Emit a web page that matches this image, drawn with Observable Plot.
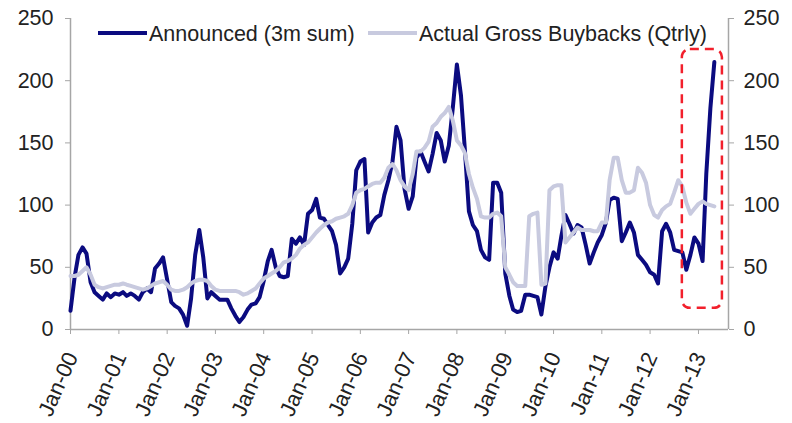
<!DOCTYPE html>
<html>
<head>
<meta charset="utf-8">
<script src="https://cdn.jsdelivr.net/npm/d3@7"></script>
<script src="https://cdn.jsdelivr.net/npm/@observablehq/plot@0.6"></script>
<style>
  body { margin: 0; background: #fff; }
  #chart { position: relative; width: 792px; height: 423px; font-family: "Liberation Sans", Arial, sans-serif; color: #222; }
  #chart svg { display: block; }
  .key { position: absolute; height: 4px; }
  .key-label { position: absolute; font-size: 21.5px; line-height: 22px; white-space: nowrap; color: #222; }
</style>
</head>
<body>
<div id="chart"></div>
<script>
// Monthly series, starting January 2000 ($bn)
const startYear = 2000;

const announced = [
  15, 42, 60, 66, 61, 38, 30, 27, 24, 29, 26, 29,        // 2000
  28, 30, 27, 29, 27, 24, 30, 33, 30, 49, 53, 58,        // 2001
  40, 22, 19, 17, 12, 3, 25, 60, 80, 58, 25, 30,         // 2002
  27, 24, 24, 24, 17, 11, 6, 10, 16, 20, 21, 26,         // 2003
  39, 55, 64, 50, 43, 42, 43, 73, 69, 74, 68, 93,        // 2004
  96, 105, 90, 89, 84, 79, 68, 45, 50, 57, 85, 128,      // 2005
  135, 137, 78, 86, 90, 92, 108, 120, 135, 163, 152, 113, // 2006
  97, 107, 138, 143, 135, 127, 141, 158, 152, 135, 148, 178, // 2007
  213, 188, 145, 95, 84, 79, 64, 58, 56, 118, 118, 110,  // 2008
  45, 27, 16, 14, 15, 28, 28, 27, 26, 12, 35, 50,        // 2009
  62, 57, 75, 92, 85, 77, 84, 82, 68, 53, 62, 70,        // 2010
  76, 86, 104, 106, 105, 71, 78, 86, 78, 60, 56, 52,     // 2011
  46, 44, 37, 79, 85, 78, 64, 63, 62, 48, 60, 74,        // 2012
  69, 55, 125, 178, 215                                  // 2013
];

const actual = [
  43, 43, 44, 47, 50, 44, 36, 34, 33, 34, 35, 36,        // 2000
  36, 37, 36, 35, 34, 33, 32, 33, 35, 37, 38, 39,        // 2001
  36, 32, 31, 31, 32, 34, 37, 39, 40, 40, 39, 35,        // 2002
  32, 31, 31, 31, 31, 31, 30, 28, 29, 31, 33, 37,        // 2003
  41, 43, 45, 47, 50, 54, 55, 57, 60, 65, 68, 70,        // 2004
  74, 78, 81, 84, 86, 87, 89, 90, 91, 93, 100, 110,      // 2005
  112, 113, 115, 117, 118, 118, 122, 130, 133, 128, 120, 115, // 2006
  112, 125, 143, 143, 146, 151, 163, 166, 171, 174, 179, 168, // 2007
  152, 148, 142, 125, 114, 105, 91, 90, 90, 93, 94, 91,  // 2008
  50, 44, 38, 35, 35, 35, 91, 93, 94, 36, 37, 112,       // 2009
  115, 116, 116, 70, 74, 78, 82, 80, 80, 80, 79, 79,     // 2010
  86, 86, 120, 138, 138, 120, 110, 110, 112, 130, 126, 118, // 2011
  100, 92, 90, 96, 99, 101, 110, 120, 115, 102, 93, 97,  // 2012
  101, 103, 101, 100, 99                                 // 2013
];

const seriesNames = ["Announced (3m sum)", "Actual Gross Buybacks (Qtrly)"];
const yTicks = [0, 50, 100, 150, 200, 250];
const tickYears = [2000, 2001, 2002, 2003, 2004, 2005, 2006, 2007, 2008, 2009, 2010, 2011, 2012, 2013];

// Highlighted window around the latest surge in announcements
const highlightFrom = "2012-09-01";
const highlightTo = "2013-07-01";
const highlightLow = 17;
const highlightHigh = 225;

const navy = "#0b0b80";
const lilac = "#c8cadf";
const axisGrey = "#a6a6a6";
const ink = "#222";

const monthDate = (i) => new Date(Date.UTC(startYear, i, 1));
const announcedRows = announced.map((value, i) => ({ date: monthDate(i), value }));
const actualRows = actual.map((value, i) => ({ date: monthDate(i), value }));
const tickDates = tickYears.map((y) => new Date(Date.UTC(y, 0, 1)));
const xDomain = [new Date(Date.UTC(2000, 0, 1)), new Date(Date.UTC(2013, 7, 16))];
const highlightBox = [{
  x1: new Date(highlightFrom), x2: new Date(highlightTo),
  y1: highlightLow, y2: highlightHigh
}];

const chart = Plot.plot({
  width: 792,
  height: 423,
  marginLeft: 70,
  marginRight: 64,
  marginTop: 18,
  marginBottom: 94,
  style: { fontFamily: "'Liberation Sans', Arial, sans-serif", fontSize: "21.5px", color: ink, background: "#fff" },
  x: { type: "utc", domain: xDomain },
  y: { domain: [0, 250] },
  marks: [
    Plot.ruleX(xDomain, { y1: 0, y2: 250, stroke: axisGrey, strokeWidth: 1.5 }),
    Plot.ruleY([0], { stroke: axisGrey, strokeWidth: 1.5 }),
    Plot.axisY({ anchor: "left", ticks: yTicks, tickSize: 5, tickPadding: 12, stroke: axisGrey, fill: ink, fontSize: 21.5, label: null }),
    Plot.axisY({ anchor: "right", ticks: yTicks, tickSize: 5, tickPadding: 10, stroke: axisGrey, fill: ink, fontSize: 21.5, label: null }),
    Plot.axisX({ ticks: tickDates, tickSize: 5, tickFormat: () => "", stroke: axisGrey, label: null }),
    Plot.text(tickDates, {
      x: (d) => d, frameAnchor: "bottom", text: d3.utcFormat("%b-%y"),
      rotate: -66, textAnchor: "end", lineAnchor: "bottom", dx: 8, dy: 27,
      fontSize: 22, fill: ink
    }),
    Plot.line(announcedRows, { x: "date", y: "value", stroke: navy, strokeWidth: 4 }),
    Plot.line(actualRows, { x: "date", y: "value", stroke: lilac, strokeWidth: 4 }),
    Plot.rect(highlightBox, {
      x1: "x1", x2: "x2", y1: "y1", y2: "y2",
      fill: "none", stroke: "#f2202c", strokeWidth: 2.5, strokeDasharray: "9,6", rx: 8
    })
  ]
});

const root = document.getElementById("chart");
root.appendChild(chart);

// Legend drawn over the top of the plot area
const keys = [
  { name: seriesNames[0], color: navy, left: 98 },
  { name: seriesNames[1], color: lilac, left: 368 }
];
for (const k of keys) {
  const swatch = document.createElement("div");
  swatch.className = "key";
  swatch.style.left = k.left + "px";
  swatch.style.top = "31px";
  swatch.style.width = "49px";
  swatch.style.background = k.color;
  root.appendChild(swatch);
  const label = document.createElement("div");
  label.className = "key-label";
  label.style.left = (k.left + 51) + "px";
  label.style.top = "23px";
  label.textContent = k.name;
  root.appendChild(label);
}
</script>
</body>
</html>
